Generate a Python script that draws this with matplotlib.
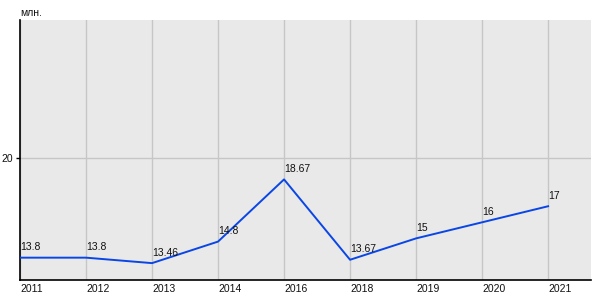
import matplotlib.pyplot as plt

years = ['2011', '2012', '2013', '2014', '2016', '2018', '2019', '2020', '2021']
values = [13.8, 13.8, 13.46, 14.8, 18.67, 13.67, 15, 16, 17]
value_labels = ['13.8', '13.8', '13.46', '14.8', '18.67', '13.67', '15', '16', '17']

plt.rcParams['font.family'] = ['Liberation Sans', 'DejaVu Sans']

fig = plt.figure(figsize=(6, 3), dpi=100)
ax = fig.add_axes([20 / 600, 20 / 300, 571 / 600, 260 / 300])
ax.set_facecolor('#e9e9e9')

x = list(range(len(years)))
ax.plot(x, values, color='#0a46e6', lw=1.4, zorder=3)

for xi, v, lab in zip(x, values, value_labels):
    ax.annotate(lab, (xi, v), xytext=(0, 4), textcoords='offset points',
                ha='left', va='bottom', fontsize=7.5, color='#111111', zorder=4)

ax.set_xlim(0, 8.65)
ax.set_ylim(12.41, 28.59)

ax.set_xticks(x)
ax.set_xticklabels(years, ha='left', fontsize=7.5, color='#111111')
ax.set_yticks([20])
ax.set_yticklabels(['20'], fontsize=7.5, color='#111111')
ax.tick_params(axis='x', length=0, pad=3)
ax.tick_params(axis='y', length=3, width=1, color='black', pad=2)

ax.grid(True, color='#c6c6c6', lw=1)
ax.set_axisbelow(True)

for side in ['top', 'right']:
    ax.spines[side].set_visible(False)
ax.spines['left'].set_color('black')
ax.spines['bottom'].set_color('black')
ax.spines['left'].set_linewidth(1.2)
ax.spines['bottom'].set_linewidth(1.2)

fig.text(20 / 600, 1 - 13 / 300, 'млн.', fontsize=7.5, color='#111111',
         ha='left', va='center')

fig.savefig('out.png', dpi=100)
